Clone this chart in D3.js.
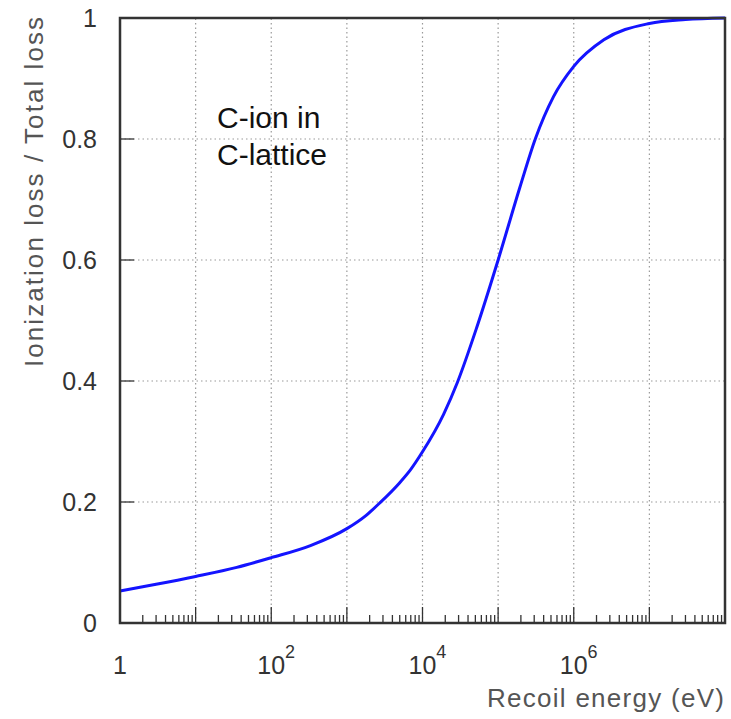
<!DOCTYPE html>
<html>
<head>
<meta charset="utf-8">
<script src="https://cdn.jsdelivr.net/npm/d3@7"></script>
<style>
  body { margin: 0; background: #fff; }
  text { font-family: "Liberation Sans", Arial, sans-serif; }
</style>
</head>
<body>
<div id="chart"></div>
<script>
// data
const energies = [1, 3, 10, 35, 100, 330, 1000, 1800, 2750, 5000, 7000, 1e4, 1.9e4, 2.9e4,
  5.2e4, 1e5, 1.95e5, 3.1e5, 5.4e5, 1e6, 2.5e6, 1e7, 3e7, 1e8];
const ratios = [0.053, 0.064, 0.077, 0.092, 0.108, 0.128, 0.156, 0.178, 0.199, 0.232, 0.254,
  0.283, 0.345, 0.398, 0.488, 0.600, 0.721, 0.800, 0.870, 0.920, 0.964, 0.991, 0.9975, 1.0];
const yTicks = [0, 0.2, 0.4, 0.6, 0.8, 1];
const yTickLabels = ["0", "0.2", "0.4", "0.6", "0.8", "1"];
const xLabelExps = [0, 2, 4, 6];
const noteLines = ["C-ion in", "C-lattice"];

const width = 731, height = 719;
const margin = { top: 18, right: 6, bottom: 96, left: 120 };

const svg = d3.select("#chart").append("svg")
  .attr("width", width)
  .attr("height", height);

const x = d3.scaleLog().domain([1, 1e8]).range([margin.left, width - margin.right]);
const y = d3.scaleLinear().domain([0, 1]).range([height - margin.bottom, margin.top]);

const decades = d3.range(0, 9).map(e => Math.pow(10, e));
const minors = [];
decades.slice(0, -1).forEach(d => { for (let k = 2; k <= 9; k++) minors.push(d * k); });

// grid
const grid = svg.append("g").attr("stroke", "#9a9a9a").attr("stroke-width", 1.2)
  .attr("stroke-dasharray", "1.5,3");
grid.selectAll(".gx").data(decades.slice(1, -1)).join("line")
  .attr("x1", d => x(d)).attr("x2", d => x(d))
  .attr("y1", y(0)).attr("y2", y(1));
grid.selectAll(".gy").data(yTicks.slice(1, -1)).join("line")
  .attr("x1", x(1)).attr("x2", x(1e8))
  .attr("y1", d => y(d)).attr("y2", d => y(d));

// ticks, drawn inward
const ticks = svg.append("g").attr("stroke", "#333").attr("stroke-width", 1.3);
ticks.selectAll(".mx").data(minors).join("line")
  .attr("x1", d => x(d)).attr("x2", d => x(d))
  .attr("y1", y(0)).attr("y2", y(0) - 8);
ticks.selectAll(".Mx").data(decades).join("line")
  .attr("x1", d => x(d)).attr("x2", d => x(d))
  .attr("y1", y(0)).attr("y2", y(0) - 16);
ticks.selectAll(".My").data(yTicks).join("line")
  .attr("x1", x(1)).attr("x2", x(1) + 14)
  .attr("y1", d => y(d)).attr("y2", d => y(d));

// curve
const line = d3.line()
  .x((d, i) => x(energies[i]))
  .y(d => y(d))
  .curve(d3.curveMonotoneX);
svg.append("path")
  .datum(ratios)
  .attr("fill", "none")
  .attr("stroke", "#1414ff")
  .attr("stroke-width", 3)
  .attr("d", line);

// frame
svg.append("rect")
  .attr("x", x(1)).attr("y", y(1))
  .attr("width", x(1e8) - x(1)).attr("height", y(0) - y(1))
  .attr("fill", "none").attr("stroke", "#333").attr("stroke-width", 2.5);

// y tick labels
svg.append("g").selectAll("text").data(yTicks).join("text")
  .attr("x", 97).attr("y", d => y(d) + 9)
  .attr("text-anchor", "end")
  .attr("font-size", 25).attr("fill", "#333")
  .text((d, i) => yTickLabels[i]);

// x tick labels
const xl = svg.append("g").attr("font-size", 25).attr("fill", "#333");
xLabelExps.forEach(e => {
  const t = xl.append("text").attr("y", 674);
  if (e === 0) {
    t.attr("x", x(1)).attr("text-anchor", "middle").text("1");
  } else {
    t.attr("x", x(Math.pow(10, e)) - 14);
    t.append("tspan").text("10");
    t.append("tspan").attr("dy", -16).attr("font-size", 18).text(String(e));
  }
});

// axis titles
svg.append("text")
  .attr("x", 487).attr("y", 707)
  .attr("font-size", 26).attr("fill", "#555")
  .attr("textLength", 237).attr("lengthAdjust", "spacing")
  .text("Recoil energy (eV)");
svg.append("text")
  .attr("transform", "translate(43,367) rotate(-90)")
  .attr("font-size", 26).attr("fill", "#555")
  .attr("textLength", 350).attr("lengthAdjust", "spacing")
  .text("Ionization loss / Total loss");

// note
svg.append("g").selectAll("text").data(noteLines).join("text")
  .attr("x", 217).attr("y", (d, i) => 128 + i * 37)
  .attr("font-size", 30).attr("fill", "#111")
  .text(d => d);
</script>
</body>
</html>
